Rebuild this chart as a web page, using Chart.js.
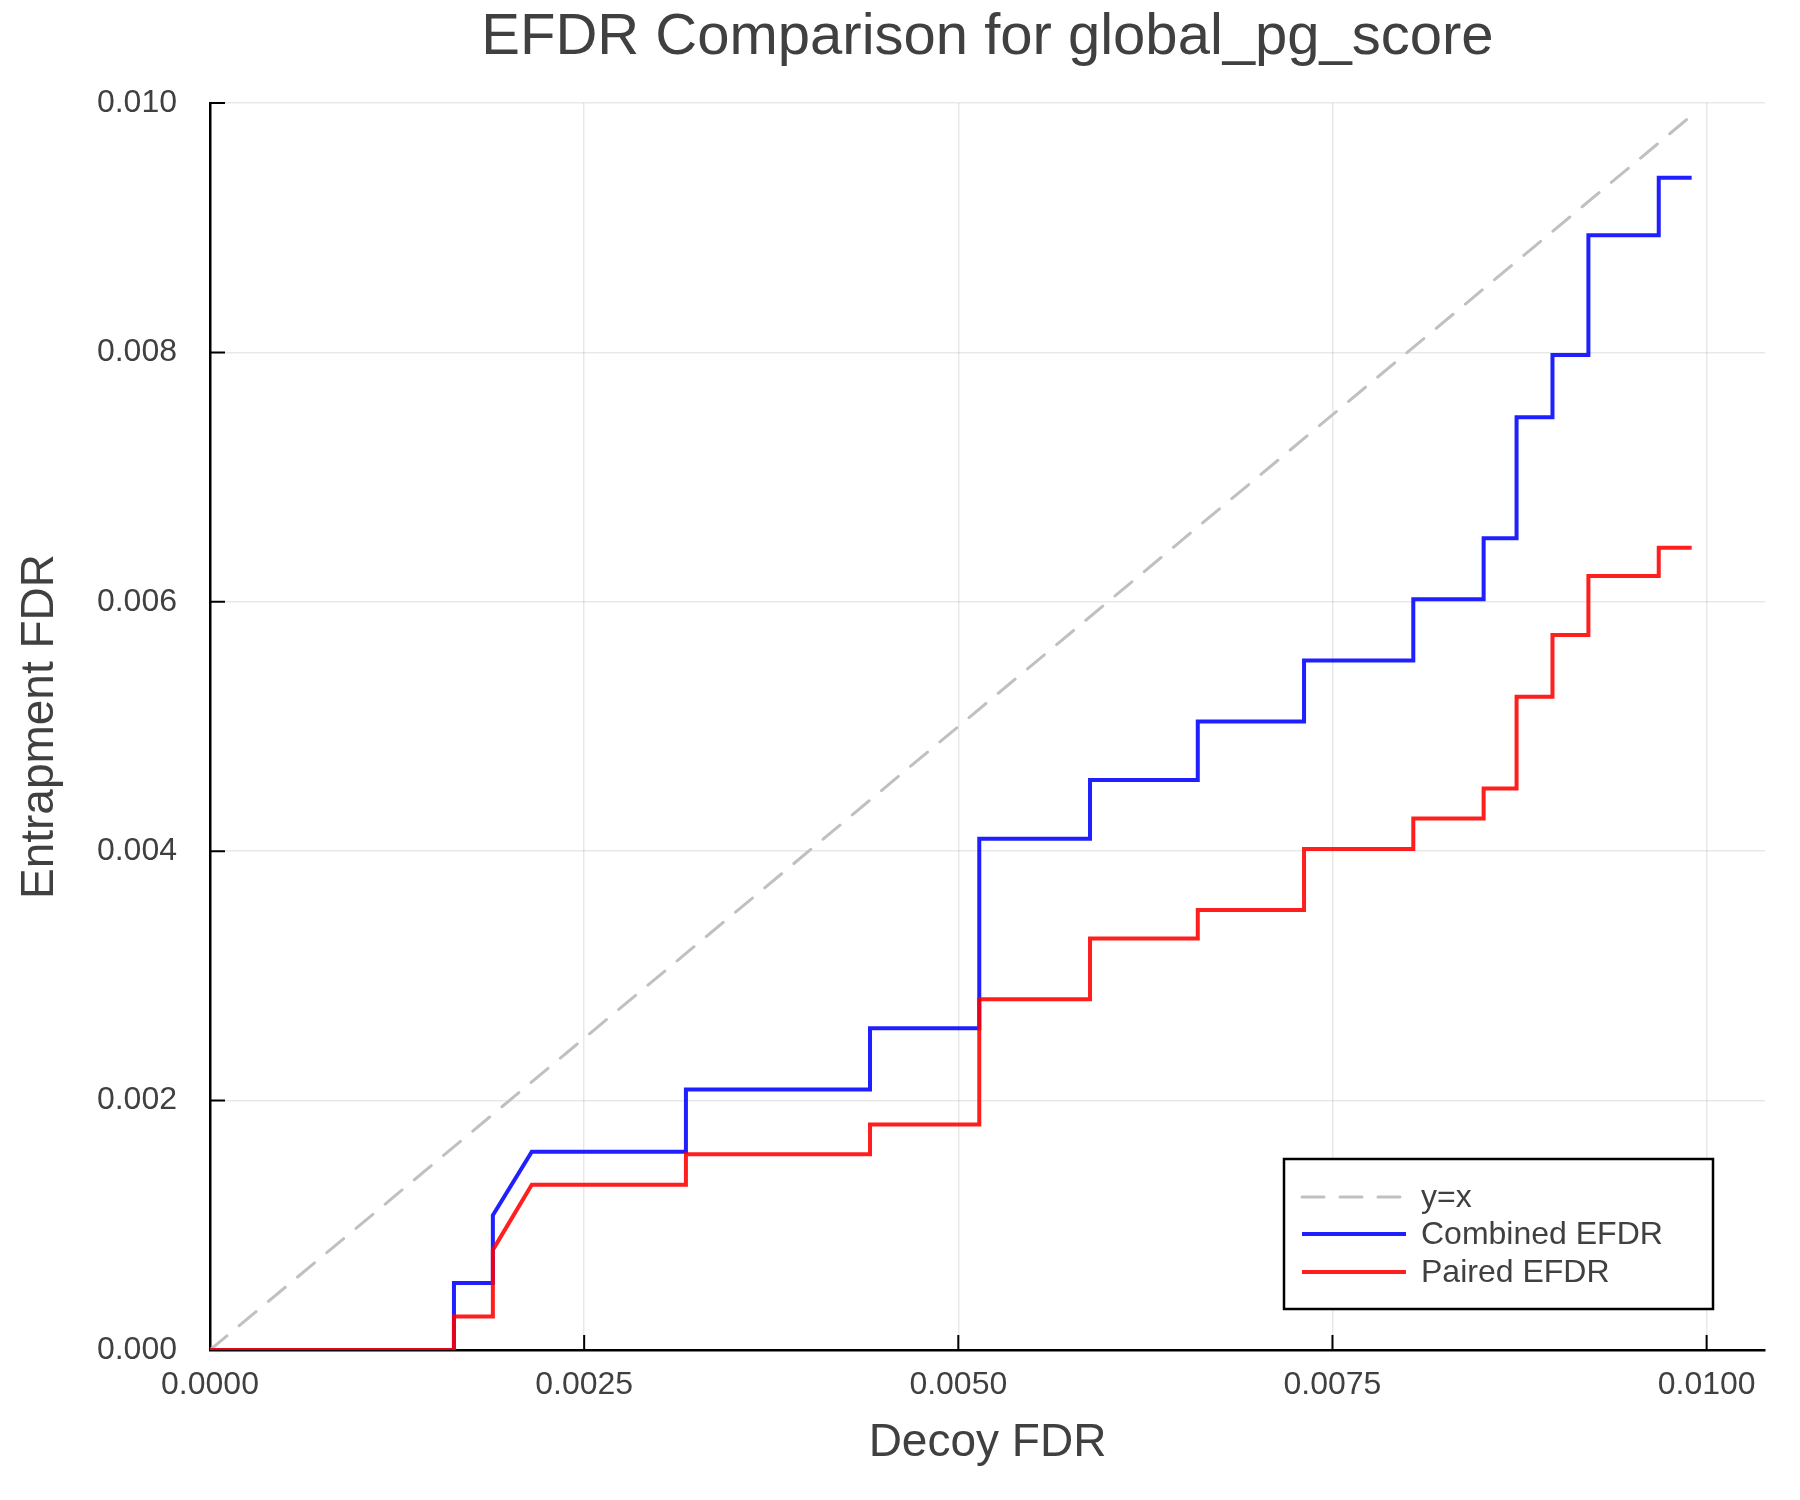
<!DOCTYPE html>
<html>
<head>
<meta charset="utf-8">
<script src="https://cdn.jsdelivr.net/npm/chart.js@4.4.1/dist/chart.umd.min.js"></script>
<style>
  html, body { margin: 0; padding: 0; background: #ffffff; }
  #wrap { width: 1800px; height: 1500px; }
</style>
</head>
<body>
<div id="wrap"><canvas id="c" width="1800" height="1500"></canvas></div>
<script>
// ---------------- data ----------------
const chartTitle = "EFDR Comparison for global_pg_score";
const xAxisTitle = "Decoy FDR";
const yAxisTitle = "Entrapment FDR";

const decoyFdr = [0, 0.00163, 0.00163, 0.00189, 0.00189, 0.00215, 0.00318, 0.00318, 0.00441, 0.00441,
  0.00514, 0.00514, 0.00588, 0.00588, 0.00660, 0.00660, 0.00731, 0.00731, 0.00804, 0.00804,
  0.00851, 0.00851, 0.00873, 0.00873, 0.00897, 0.00897, 0.00921, 0.00921, 0.00968, 0.00968, 0.00990];

const combinedEfdr = [0, 0, 0.000537, 0.000537, 0.00108, 0.00159, 0.00159, 0.00209, 0.00209, 0.00258,
  0.00258, 0.00410, 0.00410, 0.00457, 0.00457, 0.00504, 0.00504, 0.00553, 0.00553, 0.00602,
  0.00602, 0.00651, 0.00651, 0.00748, 0.00748, 0.00798, 0.00798, 0.00894, 0.00894, 0.00940, 0.00940];

const pairedEfdr = [0, 0, 0.000268, 0.000268, 0.000803, 0.001325, 0.001325, 0.001569, 0.001569, 0.001808,
  0.001808, 0.002813, 0.002813, 0.003300, 0.003300, 0.003528, 0.003528, 0.004018, 0.004018, 0.004262,
  0.004262, 0.004503, 0.004503, 0.005238, 0.005238, 0.005733, 0.005733, 0.006206, 0.006206, 0.006433, 0.006433];

const identityLine = [0, 0.00993];

const xTickValues = [0, 0.0025, 0.0050, 0.0075, 0.0100];
const yTickValues = [0, 0.002, 0.004, 0.006, 0.008, 0.010];

const seriesLabels = ["y=x", "Combined EFDR", "Paired EFDR"];

// ---------------- styles ----------------
const FONT = "'Liberation Sans', Arial, Helvetica, sans-serif";
const TEXT = "#404040";

const toPts = (xs, ys) => xs.map((x, i) => ({ x: x, y: ys[i] }));

const tickMarks = {
  id: 'tickMarks',
  beforeDatasetsDraw(chart) {
    const ctx = chart.ctx, a = chart.chartArea;
    const xs = chart.scales.x, ys = chart.scales.y;
    ctx.save();
    ctx.strokeStyle = '#000000';
    ctx.lineWidth = 2;
    ctx.beginPath();
    xTickValues.forEach(v => { const p = xs.getPixelForValue(v); ctx.moveTo(p, a.bottom); ctx.lineTo(p, a.bottom - 15); });
    yTickValues.forEach(v => { const p = ys.getPixelForValue(v); ctx.moveTo(a.left, p); ctx.lineTo(a.left + 15, p); });
    ctx.stroke();
    ctx.restore();
  }
};

const texts = {
  id: 'texts',
  afterDraw(chart) {
    const ctx = chart.ctx, a = chart.chartArea;
    ctx.save();
    ctx.fillStyle = TEXT;
    ctx.textAlign = 'center';
    ctx.textBaseline = 'middle';
    ctx.font = "58px " + FONT;
    ctx.fillText(chartTitle, (a.left + a.right) / 2, 38);
    ctx.font = "46px " + FONT;
    ctx.fillText(xAxisTitle, (a.left + a.right) / 2, 1443);
    ctx.translate(40, (a.top + a.bottom) / 2);
    ctx.rotate(-Math.PI / 2);
    ctx.fillText(yAxisTitle, 0, 0);
    ctx.restore();

    // legend box
    const bx = 1284, by = 1159, bw = 429, bh = 150;
    ctx.save();
    ctx.fillStyle = '#ffffff';
    ctx.fillRect(bx, by, bw, bh);
    ctx.strokeStyle = '#000000';
    ctx.lineWidth = 2.5;
    ctx.strokeRect(bx, by, bw, bh);
    const rowY = [1197, 1234, 1272];
    const order = [2, 1, 0];
    order.forEach((di, r) => {
      const ds = chart.data.datasets[di];
      ctx.beginPath();
      ctx.strokeStyle = ds.borderColor;
      ctx.lineWidth = ds.borderWidth;
      ctx.lineCap = ds.borderCapStyle || 'butt';
      ctx.setLineDash(ds.borderDash || []);
      ctx.moveTo(1302, rowY[r]);
      ctx.lineTo(1406, rowY[r]);
      ctx.stroke();
      ctx.setLineDash([]);
      ctx.fillStyle = TEXT;
      ctx.font = "32px " + FONT;
      ctx.textAlign = 'left';
      ctx.textBaseline = 'middle';
      ctx.fillText(ds.label, 1421, rowY[r] + 1);
    });
    ctx.restore();
  }
};

new Chart(document.getElementById('c'), {
  type: 'line',
  data: {
    datasets: [
      {
        label: seriesLabels[2],
        data: toPts(decoyFdr, pairedEfdr),
        borderColor: 'rgba(255,0,0,0.88)',
        borderWidth: 4,
        pointRadius: 0,
        tension: 0,
        fill: false,
        order: 0
      },
      {
        label: seriesLabels[1],
        data: toPts(decoyFdr, combinedEfdr),
        borderColor: 'rgba(0,0,255,0.88)',
        borderWidth: 4,
        pointRadius: 0,
        tension: 0,
        fill: false,
        order: 1
      },
      {
        label: seriesLabels[0],
        data: toPts(identityLine, identityLine),
        borderColor: '#c0c0c0',
        borderWidth: 3,
        borderDash: [22, 16],
        borderCapStyle: 'round',
        pointRadius: 0,
        tension: 0,
        fill: false,
        order: 2
      }
    ]
  },
  options: {
    responsive: false,
    animation: false,
    devicePixelRatio: 1,
    layout: { padding: { top: 103, left: 0, right: 35, bottom: 0 } },
    plugins: {
      legend: { display: false },
      title: { display: false },
      tooltip: { enabled: false }
    },
    scales: {
      x: {
        type: 'linear',
        min: 0,
        max: 0.01039,
        afterFit(s) { s.height = 150; },
        afterBuildTicks(s) { s.ticks = xTickValues.map(v => ({ value: v })); },
        ticks: {
          callback: v => Number(v).toFixed(4),
          font: { family: FONT, size: 32 },
          color: TEXT,
          padding: 16,
          maxRotation: 0,
          autoSkip: false
        },
        grid: { color: 'rgba(0,0,0,0.09)', lineWidth: 1.5, drawTicks: false },
        border: { display: true, color: '#000000', width: 2.5 }
      },
      y: {
        type: 'linear',
        min: 0,
        max: 0.010,
        afterFit(s) { s.width = 210; },
        afterBuildTicks(s) { s.ticks = yTickValues.map(v => ({ value: v })); },
        ticks: {
          callback: v => Number(v).toFixed(3),
          font: { family: FONT, size: 32 },
          color: TEXT,
          padding: 33,
          autoSkip: false
        },
        grid: { color: 'rgba(0,0,0,0.09)', lineWidth: 1.5, drawTicks: false },
        border: { display: true, color: '#000000', width: 2.5 }
      }
    }
  },
  plugins: [tickMarks, texts]
});
</script>
</body>
</html>
